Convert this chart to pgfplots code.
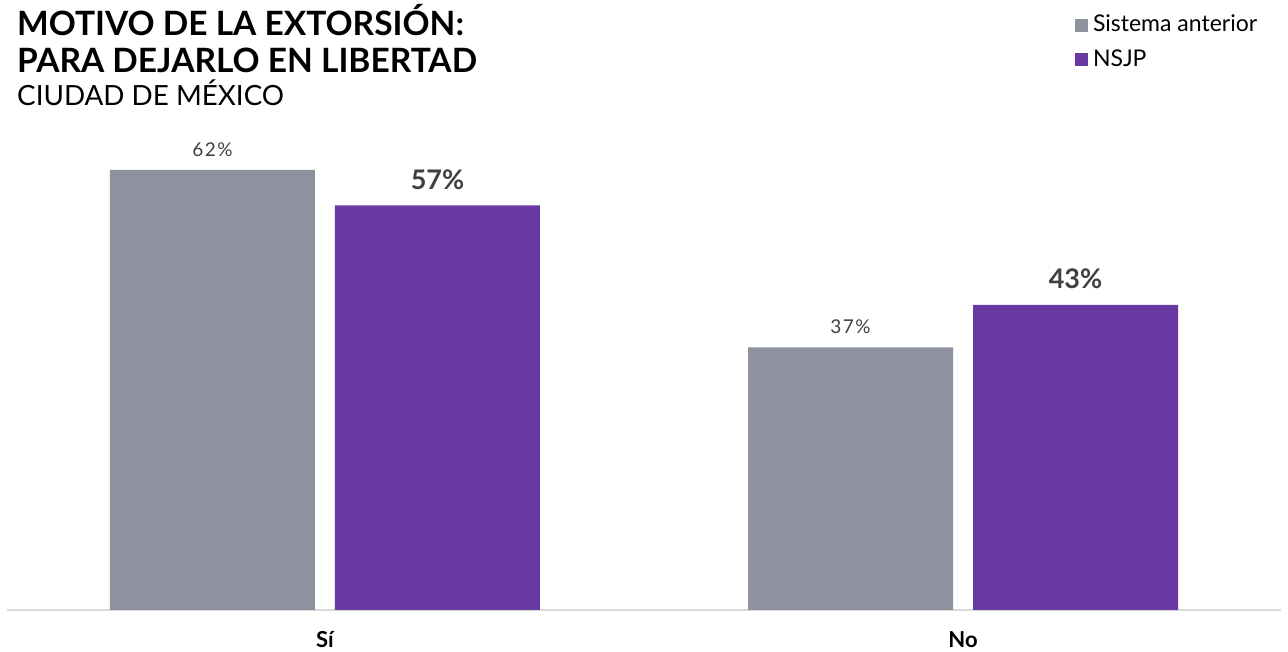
\documentclass[border=0pt]{standalone}
\usepackage{fontspec}
\setmainfont{Lato}
\usepackage{pgfplots}
\pgfplotsset{compat=1.18}
\definecolor{grayb}{HTML}{8E929E}
\definecolor{purpb}{HTML}{6839A0}
\definecolor{lbl}{HTML}{404040}
\definecolor{axl}{HTML}{D9D9D9}
\begin{document}
\begin{tikzpicture}
\useasboundingbox (0,0) rectangle (1288pt,652pt);
\node[anchor=base west, inner sep=0pt, font=\fontsize{33.5}{33.5}\selectfont\bfseries] at (17pt,616pt) {MOTIVO DE LA EXTORSIÓN:};
\node[anchor=base west, inner sep=0pt, font=\fontsize{33.5}{33.5}\selectfont\bfseries] at (17pt,579.5pt) {PARA DEJARLO EN LIBERTAD};
\node[anchor=base west, inner sep=0pt, font=\fontsize{27.8}{27.8}\selectfont] at (17pt,546pt) {CIUDAD DE MÉXICO};
\begin{axis}[
  at={(7pt,42pt)}, anchor=south west,
  scale only axis, width=1274pt, height=440pt,
  ybar=20pt, bar width=205pt,
  xmin=-0.4984, xmax=1.4984, ymin=0, ymax=62,
  clip=false,
  /pgf/number format/assume math mode=true,
  axis x line=bottom, axis y line=none,
  x axis line style={color=axl, line width=2pt, -},
  xtick={0,1}, xticklabels={Sí,No},
  major tick length=0pt,
  xticklabel style={anchor=base, yshift=-38pt, font=\fontsize{22}{22}\selectfont\bfseries, text=black},
  ytick=\empty,
  legend style={draw=none, fill=none, at={(axis description cs:0.8383,1.352)}, anchor=north west,
    font=\fontsize{23}{23}\selectfont, row sep=16pt, inner sep=0pt, outer sep=0pt,
    nodes={inner sep=0pt, anchor=base west}},
  legend image code/.code={\fill[#1] (0pt,0pt) rectangle (13pt,13pt); \path (18pt,0pt);},
  legend cell align=left,
]
\addplot[fill=grayb, draw=none,
  nodes near coords={\pgfmathprintnumber{\pgfplotspointmeta}\%},
  every node near coord/.append style={anchor=base, yshift=13.5pt, text=lbl, font=\fontsize{19}{19}\selectfont\addfontfeature{LetterSpace=8}}]
  coordinates {(0,62) (1,37)};
\addplot[fill=purpb, draw=none,
  nodes near coords={\pgfmathprintnumber{\pgfplotspointmeta}\%},
  every node near coord/.append style={anchor=base, yshift=16pt, text=lbl, font=\fontsize{27}{27}\selectfont\bfseries}]
  coordinates {(0,57) (1,43)};
\legend{Sistema anterior, NSJP}
\end{axis}
\end{tikzpicture}
\end{document}
